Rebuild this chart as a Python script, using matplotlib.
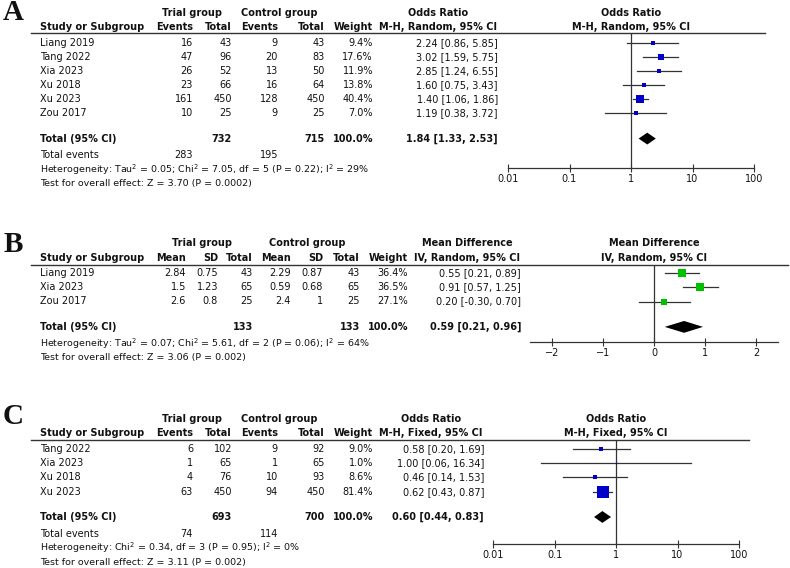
import matplotlib
matplotlib.use('Agg')
import matplotlib.pyplot as plt
import numpy as np
from matplotlib.lines import Line2D
from matplotlib.ticker import NullLocator

# ---- panel A : odds ratio, random effects
a_studies = ['Liang 2019', 'Tang 2022', 'Xia 2023', 'Xu 2018', 'Xu 2023', 'Zou 2017']
a_trial_events = [16, 47, 26, 23, 161, 10]
a_trial_total = [43, 96, 52, 66, 450, 25]
a_ctrl_events = [9, 20, 13, 16, 128, 9]
a_ctrl_total = [43, 83, 50, 64, 450, 25]
a_weight = [9.4, 17.6, 11.9, 13.8, 40.4, 7.0]
a_or = [2.24, 3.02, 2.85, 1.60, 1.40, 1.19]
a_lo = [0.86, 1.59, 1.24, 0.75, 1.06, 0.38]
a_hi = [5.85, 5.75, 6.55, 3.43, 1.86, 3.72]
a_pooled = [1.84, 1.33, 2.53]
a_sums = [732, 715, 100.0]
a_events = [283, 195]
a_het = r'Heterogeneity: Tau$^2$ = 0.05; Chi$^2$ = 7.05, df = 5 (P = 0.22); I$^2$ = 29%'
a_test = 'Test for overall effect: Z = 3.70 (P = 0.0002)'

# ---- panel B : mean difference, random effects
b_studies = ['Liang 2019', 'Xia 2023', 'Zou 2017']
b_trial_mean = [2.84, 1.5, 2.6]
b_trial_sd = [0.75, 1.23, 0.8]
b_trial_total = [43, 65, 25]
b_ctrl_mean = [2.29, 0.59, 2.4]
b_ctrl_sd = [0.87, 0.68, 1]
b_ctrl_total = [43, 65, 25]
b_weight = [36.4, 36.5, 27.1]
b_md = [0.55, 0.91, 0.20]
b_lo = [0.21, 0.57, -0.30]
b_hi = [0.89, 1.25, 0.70]
b_pooled = [0.59, 0.21, 0.96]
b_sums = [133, 133, 100.0]
b_het = r'Heterogeneity: Tau$^2$ = 0.07; Chi$^2$ = 5.61, df = 2 (P = 0.06); I$^2$ = 64%'
b_test = 'Test for overall effect: Z = 3.06 (P = 0.002)'

# ---- panel C : odds ratio, fixed effect
c_studies = ['Tang 2022', 'Xia 2023', 'Xu 2018', 'Xu 2023']
c_trial_events = [6, 1, 4, 63]
c_trial_total = [102, 65, 76, 450]
c_ctrl_events = [9, 1, 10, 94]
c_ctrl_total = [92, 65, 93, 450]
c_weight = [9.0, 1.0, 8.6, 81.4]
c_or = [0.58, 1.00, 0.46, 0.62]
c_lo = [0.20, 0.06, 0.14, 0.43]
c_hi = [1.69, 16.34, 1.53, 0.87]
c_pooled = [0.60, 0.44, 0.83]
c_sums = [693, 700, 100.0]
c_events = [74, 114]
c_het = r'Heterogeneity: Chi$^2$ = 0.34, df = 3 (P = 0.95); I$^2$ = 0%'
c_test = 'Test for overall effect: Z = 3.11 (P = 0.002)'

or_ticks = [0.01, 0.1, 1, 10, 100]
or_tick_labels = ['0.01', '0.1', '1', '10', '100']
md_ticks = [-2, -1, 0, 1, 2]
md_tick_labels = ['−2', '−1', '0', '1', '2']

W, H = 790, 568
FS = 7
FS_NOTE = 6.8
ROW_H = 14.1
INK = '#111111'
LINE = '#333333'

fig = plt.figure(figsize=(W / 100, H / 100), dpi=100)


def txt(x, y, s, ha='left', bold=False, size=FS, **kw):
    fig.text(x / W, 1 - y / H, s, ha=ha, va='center', fontsize=size,
             fontweight='bold' if bold else 'normal', color=INK, **kw)


def rule(x0, x1, y):
    fig.add_artist(Line2D([x0 / W, x1 / W], [1 - y / H] * 2,
                          transform=fig.transFigure, color=LINE, lw=1.0))


def forest_axes(x0, x1, y_top, y_bot, row0, xlim, log, ticks, labels, null):
    ax = fig.add_axes([x0 / W, 1 - y_bot / H, (x1 - x0) / W, (y_bot - y_top) / H])
    ax.set_ylim((y_bot - row0) / ROW_H, (y_top - row0) / ROW_H)
    if log:
        ax.set_xscale('log')
    ax.set_xlim(*xlim)
    ax.set_xticks(ticks, labels=labels)
    ax.xaxis.set_minor_locator(NullLocator())
    ax.set_yticks([])
    ax.patch.set_alpha(0)
    for s in ['top', 'left', 'right']:
        ax.spines[s].set_visible(False)
    ax.spines['bottom'].set_color(LINE)
    ax.spines['bottom'].set_linewidth(0.9)
    ax.tick_params(axis='x', direction='inout', length=6, width=0.8, color=LINE,
                   labelsize=FS, labelcolor=INK, pad=1)
    ax.axvline(null, color=LINE, lw=0.9, zorder=1)
    return ax


def draw_marks(ax, est, lo, hi, weight, pooled, colour):
    n = len(est)
    for i in range(n):
        ax.plot([lo[i], hi[i]], [i, i], color=LINE, lw=0.9, zorder=2)
        ax.plot(est[i], i, marker='s', ms=0.95 * np.sqrt(weight[i]),
                color=colour, mec=colour, mew=0, zorder=3)
    tr = n + 0.8
    p, plo, phi = pooled
    ax.fill([plo, p, phi, p], [tr, tr - 0.42, tr, tr + 0.42], color='black', lw=0, zorder=3)


def binary_panel(letter, y_letter, row0, h1, h2, rule_y, rule_x1, eff_right, eff_center,
                 method, ax_x, ax_ybot, studies, te, tt, ce, ct, wt, est, lo, hi,
                 pooled, sums, events, het, test):
    n = len(studies)
    ry = lambda r: row0 + r * ROW_H
    txt(13, y_letter, letter, ha='center', bold=True, size=21, family='Liberation Serif')
    txt(192, h1, 'Trial group', ha='center', bold=True)
    txt(279, h1, 'Control group', ha='center', bold=True)
    txt(eff_center, h1, 'Odds Ratio', ha='center', bold=True)
    txt(40, h2, 'Study or Subgroup', bold=True)
    for x, s in [(193, 'Events'), (232, 'Total'), (278, 'Events'), (325, 'Total'), (373, 'Weight')]:
        txt(x, h2, s, ha='right', bold=True)
    txt(eff_center, h2, method, ha='center', bold=True)
    rule(31, rule_x1, rule_y)
    for i in range(n):
        y = ry(i)
        txt(40, y, studies[i])
        txt(193, y, str(te[i]), ha='right')
        txt(232, y, str(tt[i]), ha='right')
        txt(278, y, str(ce[i]), ha='right')
        txt(325, y, str(ct[i]), ha='right')
        txt(373, y, '%.1f%%' % wt[i], ha='right')
        txt(eff_right, y, '%.2f [%.2f, %.2f]' % (est[i], lo[i], hi[i]), ha='right')
    y = ry(n + 0.8)
    txt(40, y, 'Total (95% CI)', bold=True)
    txt(232, y, str(sums[0]), ha='right', bold=True)
    txt(325, y, str(sums[1]), ha='right', bold=True)
    txt(373, y, '%.1f%%' % sums[2], ha='right', bold=True)
    txt(eff_right, y, '%.2f [%.2f, %.2f]' % tuple(pooled), ha='right', bold=True)
    txt(40, ry(n + 2), 'Total events')
    txt(193, ry(n + 2), str(events[0]), ha='right')
    txt(278, ry(n + 2), str(events[1]), ha='right')
    txt(40, ry(n + 3), het, size=FS_NOTE)
    txt(40, ry(n + 4), test, size=FS_NOTE)

    ax = forest_axes(ax_x[0], ax_x[1], rule_y, ax_ybot, row0, (0.01, 100), True,
                     or_ticks, or_tick_labels, 1)
    centre = ax_x[0] + (ax_x[1] - ax_x[0]) / 2
    txt(centre, h1, 'Odds Ratio', ha='center', bold=True)
    txt(centre, h2, method, ha='center', bold=True)
    draw_marks(ax, est, lo, hi, wt, pooled, '#0000c8')


# ---- A
binary_panel('A', 12, 42.7, 13, 27, 33, 765, 498, 438, 'M-H, Random, 95% CI',
             (508, 754), 168, a_studies, a_trial_events, a_trial_total, a_ctrl_events,
             a_ctrl_total, a_weight, a_or, a_lo, a_hi, a_pooled, a_sums, a_events,
             a_het, a_test)

# ---- C
binary_panel('C', 417, 449.3, 419, 433, 440, 749, 484, 431, 'M-H, Fixed, 95% CI',
             (493, 739), 544, c_studies, c_trial_events, c_trial_total, c_ctrl_events,
             c_ctrl_total, c_weight, c_or, c_lo, c_hi, c_pooled, c_sums, c_events,
             c_het, c_test)

# ---- B
row0 = 273.3
ry = lambda r: row0 + r * ROW_H
nb = len(b_studies)
txt(13, 245, 'B', ha='center', bold=True, size=21, family='Liberation Serif')
txt(202, 243, 'Trial group', ha='center', bold=True)
txt(307, 243, 'Control group', ha='center', bold=True)
txt(467, 243, 'Mean Difference', ha='center', bold=True)
txt(40, 258, 'Study or Subgroup', bold=True)
cols_b = [186, 218, 253, 291, 323, 360]
for x, s in zip(cols_b + [408], ['Mean', 'SD', 'Total', 'Mean', 'SD', 'Total', 'Weight']):
    txt(x, 258, s, ha='right', bold=True)
txt(467, 258, 'IV, Random, 95% CI', ha='center', bold=True)
rule(31, 788, 265)
for i in range(nb):
    y = ry(i)
    txt(40, y, b_studies[i])
    vals = [b_trial_mean[i], b_trial_sd[i], b_trial_total[i],
            b_ctrl_mean[i], b_ctrl_sd[i], b_ctrl_total[i]]
    for x, v in zip(cols_b, vals):
        txt(x, y, '{:g}'.format(v), ha='right')
    txt(408, y, '%.1f%%' % b_weight[i], ha='right')
    txt(521, y, '%.2f [%.2f, %.2f]' % (b_md[i], b_lo[i], b_hi[i]), ha='right')
y = ry(nb + 0.8)
txt(40, y, 'Total (95% CI)', bold=True)
txt(253, y, str(b_sums[0]), ha='right', bold=True)
txt(360, y, str(b_sums[1]), ha='right', bold=True)
txt(408, y, '%.1f%%' % b_sums[2], ha='right', bold=True)
txt(521, y, '%.2f [%.2f, %.2f]' % tuple(b_pooled), ha='right', bold=True)
txt(40, ry(nb + 2), b_het, size=FS_NOTE)
txt(40, ry(nb + 3), b_test, size=FS_NOTE)

axb = forest_axes(530, 778, 265, 342, row0, (-2.43, 2.43), False, md_ticks, md_tick_labels, 0)
txt(654, 243, 'Mean Difference', ha='center', bold=True)
txt(654, 258, 'IV, Random, 95% CI', ha='center', bold=True)
draw_marks(axb, b_md, b_lo, b_hi, b_weight, b_pooled, '#00c000')

fig.savefig('out.png', dpi=100, facecolor='white')
